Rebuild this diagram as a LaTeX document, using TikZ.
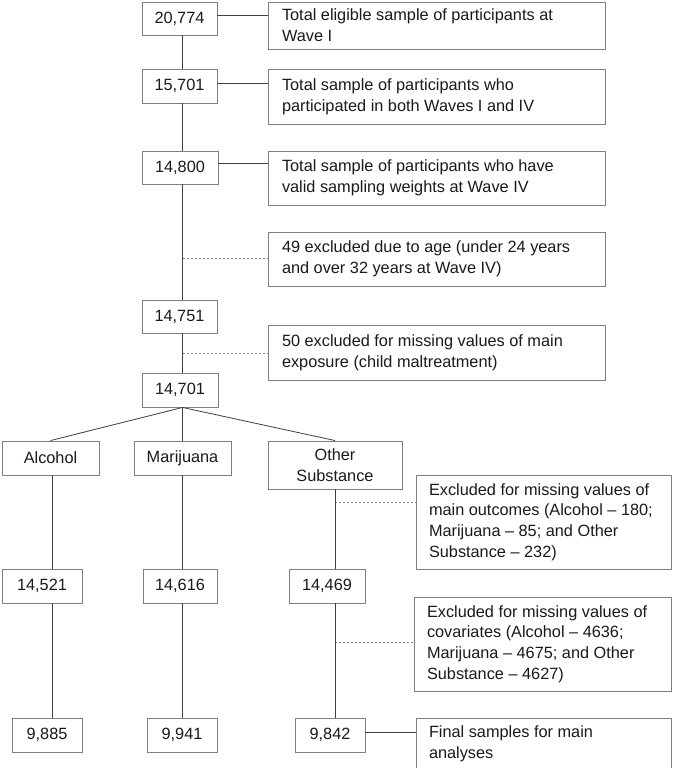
\documentclass[tikz,border=0pt]{standalone}
\usepackage{fontspec}
\setmainfont{Liberation Sans}
\usetikzlibrary{calc}
\definecolor{boxgray}{HTML}{7F7F7F}
\definecolor{linegray}{HTML}{404040}
\definecolor{txtcol}{HTML}{1A1A1A}
\begin{document}
\begin{tikzpicture}[x=1pt,y=-1pt,
  box/.style={draw=boxgray, line width=0.9pt, fill=white, text=txtcol,
    font=\fontsize{16.3}{20.7}\selectfont, inner sep=0pt},
  numbox/.style={box, align=center},
  txtbox/.style={box, align=flush left, inner xsep=14pt, inner ysep=2pt},
  conn/.style={draw=linegray, line width=0.8pt},
  dashconn/.style={draw=boxgray, line width=0.8pt, dash pattern=on 2pt off 2pt}]
\fill[white] (0,0) rectangle (672,768);
\useasboundingbox (0,0) rectangle (672,768);

% main column
\node[numbox, minimum width=75pt, minimum height=33pt] (n1) at (179.5,18.5) {20,774};
\node[numbox, minimum width=75pt, minimum height=34pt] (n2) at (179.5,86) {15,701};
\node[numbox, minimum width=76pt, minimum height=33pt] (n3) at (180,167.5) {14,800};
\node[numbox, minimum width=75pt, minimum height=33pt] (n4) at (179.5,316.5) {14,751};
\node[numbox, minimum width=76pt, minimum height=34pt] (n5) at (180,390) {14,701};

% side text boxes
\node[txtbox, text width=309pt, minimum height=47pt] (t1) at (436.5,25.5)
  {Total eligible sample of participants at\\Wave I};
\node[txtbox, text width=309pt, minimum height=55pt] (t2) at (436.5,96.5)
  {Total sample of participants who\\participated in both Waves I and IV};
\node[txtbox, text width=309pt, minimum height=54pt] (t3) at (436.5,178)
  {Total sample of participants who have\\valid sampling weights at Wave IV};
\node[txtbox, text width=309pt, minimum height=54pt] (t4) at (436.5,259)
  {49 excluded due to age (under 24 years\\and over 32 years at Wave IV)};
\node[txtbox, text width=309pt, minimum height=55pt] (t5) at (436.5,352.5)
  {50 excluded for missing values of main\\exposure (child maltreatment)};

% substance boxes
\node[numbox, minimum width=97pt, minimum height=34pt] (a) at (50.5,458) {Alcohol};
\node[numbox, minimum width=97pt, minimum height=34pt] (m) at (182.5,458) {Marijuana};
\node[numbox, minimum width=134pt, minimum height=48pt] (o) at (335,465) {Other\\Substance};

\node[txtbox, inner xsep=13pt, text width=229.5pt, minimum height=94pt] (t6) at (543.75,522)
  {Excluded for missing values of\\main outcomes (Alcohol – 180;\\Marijuana – 85; and Other\\Substance – 232)};

\node[numbox, minimum width=80pt, minimum height=34pt] (r1) at (42,586) {14,521};
\node[numbox, minimum width=74pt, minimum height=34pt] (r2) at (180,586) {14,616};
\node[numbox, minimum width=76pt, minimum height=34pt] (r3) at (327,586) {14,469};

\node[txtbox, inner xsep=13pt, text width=231.5pt, minimum height=94pt] (t7) at (542.75,644)
  {Excluded for missing values of\\covariates (Alcohol – 4636;\\Marijuana – 4675; and Other\\Substance – 4627)};

\node[numbox, minimum width=70pt, minimum height=34pt] (f1) at (47,735) {9,885};
\node[numbox, minimum width=70pt, minimum height=34pt] (f2) at (182,735) {9,941};
\node[numbox, minimum width=70pt, minimum height=34pt] (f3) at (330,735) {9,842};

\node[txtbox, inner xsep=13pt, text width=229.5pt, minimum height=52pt] (t8) at (543.75,744)
  {Final samples for main\\analyses};

% column coordinates
\coordinate (colA) at (52,0);
\coordinate (colB) at (182.5,0);
\coordinate (colC) at (335,0);

% horizontal solid connectors
\coordinate (h1) at (0,15);
\coordinate (h2) at (0,83);
\coordinate (h3) at (0,163);
\coordinate (h8) at (0,732);
\draw[conn] (n1.east |- h1) -- (t1.west |- h1);
\draw[conn] (n2.east |- h2) -- (t2.west |- h2);
\draw[conn] (n3.east |- h3) -- (t3.west |- h3);
\draw[conn] (f3.east |- h8) -- (t8.west |- h8);

% trunk
\draw[conn] (n1.south -| colB) -- (n2.north -| colB);
\draw[conn] (n2.south -| colB) -- (n3.north -| colB);
\draw[conn] (n3.south -| colB) -- (n4.north -| colB);
\draw[conn] (n4.south -| colB) -- (n5.north -| colB);

% dashed exclusions
\coordinate (d1) at (0,258);
\coordinate (d2) at (0,353);
\coordinate (d3) at (0,502);
\coordinate (d4) at (0,642);
\draw[dashconn] (colB |- d1) -- (t4.west |- d1);
\draw[dashconn] (colB |- d2) -- (t5.west |- d2);
\draw[dashconn] (colC |- d3) -- (t6.west |- d3);
\draw[dashconn] (colC |- d4) -- (t7.west |- d4);

% branches
\draw[conn] (n5.south -| colB) -- (a.north);
\draw[conn] (n5.south -| colB) -- (m.north -| colB);
\draw[conn] (n5.south -| colB) -- (o.north);

% verticals
\draw[conn] (a.south -| colA) -- (r1.north -| colA);
\draw[conn] (m.south -| colB) -- (r2.north -| colB);
\draw[conn] (o.south -| colC) -- (r3.north -| colC);
\draw[conn] (r1.south -| colA) -- (f1.north -| colA);
\draw[conn] (r2.south -| colB) -- (f2.north -| colB);
\draw[conn] (r3.south -| colC) -- (f3.north -| colC);
\end{tikzpicture}
\end{document}
